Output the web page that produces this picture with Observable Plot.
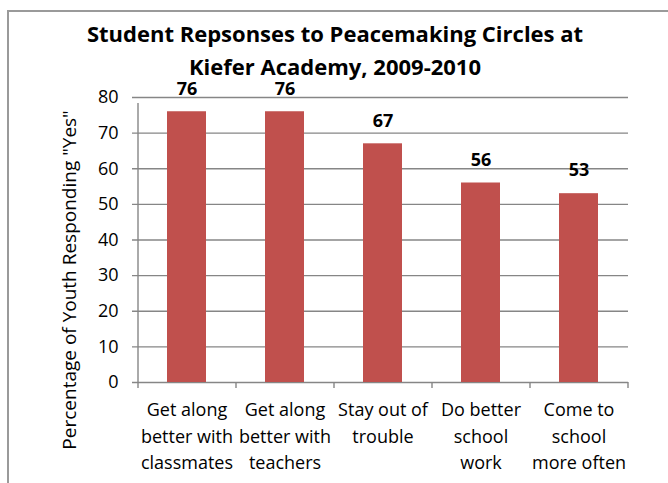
<!DOCTYPE html>
<html>
<head>
<meta charset="utf-8">
<script src="https://cdn.jsdelivr.net/npm/d3@7"></script>
<script src="https://cdn.jsdelivr.net/npm/@observablehq/plot@0.6"></script>
<style>
  html, body { margin: 0; padding: 0; background: white; }
  #wrap { position: relative; width: 668px; height: 483px; overflow: hidden; background: white; }
  #chart { position: absolute; left: 0; top: 0; }
  #border { position: absolute; left: 7px; top: 10px; width: 700px; height: 520px; border: 2px solid #9a9a9a; box-sizing: border-box; }
  #title { position: absolute; left: 0; top: 17px; width: 670px; text-align: center;
           font-family: "Open Sans", sans-serif; font-weight: bold; font-size: 22px; line-height: 33px; color: #000; }
</style>
</head>
<body>
<div id="wrap">
  <div id="chart"></div>
  <div id="border"></div>
  <div id="title">Student Repsonses to Peacemaking Circles at<br>Kiefer Academy, 2009-2010</div>
</div>
<script>
const categories = [
  "Get along better with classmates",
  "Get along better with teachers",
  "Stay out of trouble",
  "Do better school work",
  "Come to school more often"
];
const values = [76, 76, 67, 56, 53];
const tickLabels = [
  "Get along\nbetter with\nclassmates",
  "Get along\nbetter with\nteachers",
  "Stay out of\ntrouble",
  "Do better\nschool\nwork",
  "Come to\nschool\nmore often"
];
const yTicks = [0, 10, 20, 30, 40, 50, 60, 70, 80];
const yLabel = 'Percentage of Youth Responding "Yes"';

const data = categories.map((c, i) => ({category: c, value: values[i], label: tickLabels[i]}));

const W = 668, H = 483, mL = 138, mR = 40, mT = 97, mB = 101;
const step = (W - mL - mR) / categories.length;
const gray = "#868686";
const font = "Open Sans";

const chart = Plot.plot({
  width: W,
  height: H,
  marginLeft: mL,
  marginRight: mR,
  marginTop: mT,
  marginBottom: mB,
  style: {fontFamily: font, fontSize: "18px", color: "black", background: "transparent", overflow: "visible"},
  x: {domain: categories, paddingInner: 0.6, paddingOuter: 0.3, axis: null},
  y: {domain: [0, 80], axis: null},
  marks: [
    // gridlines, extended left to form the y tick marks
    Plot.ruleY(yTicks, {stroke: gray, strokeWidth: 1.4, insetLeft: -6}),
    // y axis line
    Plot.ruleX([categories[0]], {dx: -step / 2, y1: 0, y2: 80, insetBottom: -6, stroke: gray, strokeWidth: 1.4}),
    // category boundary tick marks
    Plot.ruleX(categories, {dx: -step / 2, y1: 0, y2: 0, insetBottom: -6, stroke: gray, strokeWidth: 1.4}),
    Plot.ruleX([categories[categories.length - 1]], {dx: step / 2, y1: 0, y2: 0, insetBottom: -6, stroke: gray, strokeWidth: 1.4}),
    Plot.barY(data, {x: "category", y: "value", fill: "#C0504D"}),
    Plot.text(data, {x: "category", y: "value", text: d => String(d.value), dy: -23, fontWeight: "bold", fontSize: 18, fill: "black"}),
    // y tick labels
    Plot.text(yTicks, {y: d => d, text: d => String(d), frameAnchor: "left", textAnchor: "end", dx: -20, fontSize: 18, fill: "black"}),
    // x tick labels
    Plot.text(data, {x: "category", text: "label", frameAnchor: "bottom", lineAnchor: "top", dy: 15, lineHeight: 1.47, fontSize: 18, fill: "black"}),
    // y axis title
    Plot.text([yLabel], {text: d => d, frameAnchor: "left", textAnchor: "middle", rotate: -90, dx: -69, dy: 40, fontSize: 19, fill: "black"})
  ]
});

document.getElementById("chart").appendChild(chart);
</script>
</body>
</html>
